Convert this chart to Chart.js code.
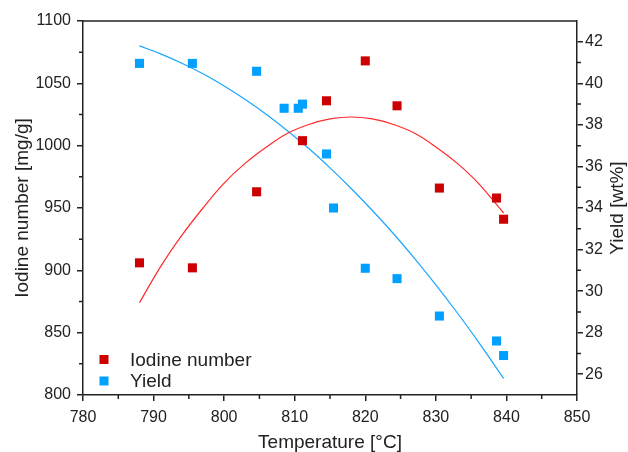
<!DOCTYPE html>
<html>
<head>
<meta charset="utf-8">
<script src="https://cdn.jsdelivr.net/npm/chart.js@4"></script>
<style>
    html, body { margin: 0; padding: 0; background: #fff; }
    #wrap { width: 628px; height: 452px; position: relative; }
</style>
</head>
<body>
<div id="wrap"><canvas id="chart"></canvas></div>
<script>
// Measured points
const iodineTemps = [788.0, 795.5, 804.6, 811.1, 814.5, 820.0, 824.5, 830.5, 838.6, 839.6];
const iodineValues = [906, 902, 963, 1004, 1036, 1068, 1032, 966, 958, 941];

const yieldTemps = [788.0, 795.5, 804.6, 808.5, 810.5, 811.1, 814.5, 815.5, 820.0, 824.5, 830.5, 838.6, 839.6];
const yieldValues = [40.96, 40.96, 40.58, 38.8, 38.8, 39.0, 36.6, 34.0, 31.1, 30.6, 28.8, 27.6, 26.9];

// Fit curves
const fitTemps = [788, 791, 794, 797, 800, 803, 806, 809, 812, 815, 818, 821, 824, 827, 830, 833, 836, 839.6];
const iodineFit = [874, 903, 928, 950, 970, 986, 999, 1010, 1017, 1021.5, 1023, 1021.5, 1017, 1010, 999, 986, 970, 946];
const yieldFit = [41.8, 41.42, 40.97, 40.46, 39.87, 39.22, 38.5, 37.71, 36.86, 35.93, 34.94, 33.88, 32.76, 31.56, 30.3, 28.97, 27.57, 25.8];

// Ticks
const tempTicks = [780, 790, 800, 810, 820, 830, 840, 850];
const iodineTicks = [800, 850, 900, 950, 1000, 1050, 1100];
const yieldTicks = [26, 28, 30, 32, 34, 36, 38, 40, 42];

// Axis labels
const xTitle = 'Temperature [°C]';
const yTitle = 'Iodine number [mg/g]';
const y1Title = 'Yield [wt%]';

const RED = '#cc0000';
const BLUE = '#00a0ff';
const RED_LINE = '#ff2a2a';
const BLUE_LINE = '#1aa6ff';
const AXIS = '#222';
const FONT = "'Liberation Sans', Arial, sans-serif";

function pts(xs, ys) {
    return xs.map((x, i) => ({ x: x, y: ys[i] }));
}

function setTicks(values) {
    return s => { s.ticks = values.map(v => ({ value: v })); };
}

// minor ticks, top frame line, right title, legend
const extras = {
    id: 'extras',
    afterDraw(chart) {
        const ctx = chart.ctx;
        const { left, right, top, bottom } = chart.chartArea;
        const sx = chart.scales.x, sy = chart.scales.y, sy1 = chart.scales.y1;
        ctx.save();
        ctx.strokeStyle = AXIS;
        ctx.lineWidth = 1.5;
        ctx.beginPath();
        ctx.moveTo(left, top);
        ctx.lineTo(right, top);
        for (let i = 0; i < tempTicks.length - 1; i++) {
            const p = sx.getPixelForValue((tempTicks[i] + tempTicks[i + 1]) / 2);
            ctx.moveTo(p, bottom);
            ctx.lineTo(p, bottom + 4);
        }
        for (let i = 0; i < iodineTicks.length - 1; i++) {
            const p = sy.getPixelForValue((iodineTicks[i] + iodineTicks[i + 1]) / 2);
            ctx.moveTo(left, p);
            ctx.lineTo(left - 4, p);
        }
        for (let i = 0; i < yieldTicks.length - 1; i++) {
            const p = sy1.getPixelForValue((yieldTicks[i] + yieldTicks[i + 1]) / 2);
            ctx.moveTo(right, p);
            ctx.lineTo(right + 4, p);
        }
        ctx.stroke();

        // right axis title, reading bottom to top
        ctx.fillStyle = AXIS;
        ctx.font = '19px ' + FONT;
        ctx.textAlign = 'center';
        ctx.textBaseline = 'middle';
        ctx.translate(618, (top + bottom) / 2);
        ctx.rotate(-Math.PI / 2);
        ctx.fillText(y1Title, 0, 0);
        ctx.restore();

        // legend
        ctx.save();
        ctx.font = '19px ' + FONT;
        ctx.textAlign = 'left';
        ctx.textBaseline = 'middle';
        const items = [chart.data.datasets[0], chart.data.datasets[1]];
        items.forEach((ds, i) => {
            const cy = 359.5 + i * 21.5;
            ctx.fillStyle = ds.backgroundColor;
            ctx.fillRect(99.5, cy - 4.5, 9, 9);
            ctx.fillStyle = AXIS;
            ctx.fillText(ds.label, 130, cy + 1);
        });
        ctx.restore();
    }
};

const tickFont = { family: FONT, size: 16 };
const titleFont = { family: FONT, size: 19, lineHeight: 1 };
const plain = v => String(v);

new Chart(document.getElementById('chart'), {
    type: 'scatter',
    data: {
        datasets: [
            {
                label: 'Iodine number',
                data: pts(iodineTemps, iodineValues),
                yAxisID: 'y',
                backgroundColor: RED,
                borderColor: RED,
                pointStyle: 'rect',
                pointRadius: 6.4,
                pointBorderWidth: 0
            },
            {
                label: 'Yield',
                data: pts(yieldTemps, yieldValues),
                yAxisID: 'y1',
                backgroundColor: BLUE,
                borderColor: BLUE,
                pointStyle: 'rect',
                pointRadius: 6.4,
                pointBorderWidth: 0
            },
            {
                label: 'Iodine fit',
                type: 'line',
                data: pts(fitTemps, iodineFit),
                yAxisID: 'y',
                borderColor: RED_LINE,
                borderWidth: 1.2,
                pointRadius: 0,
                tension: 0.4,
                fill: false
            },
            {
                label: 'Yield fit',
                type: 'line',
                data: pts(fitTemps, yieldFit),
                yAxisID: 'y1',
                borderColor: BLUE_LINE,
                borderWidth: 1.2,
                pointRadius: 0,
                tension: 0.4,
                fill: false
            }
        ]
    },
    options: {
        responsive: true,
        maintainAspectRatio: false,
        animation: false,
        layout: { padding: { top: 21, left: 0, right: 0, bottom: 0 } },
        plugins: {
            legend: { display: false },
            tooltip: { enabled: false }
        },
        scales: {
            x: {
                type: 'linear',
                min: 780,
                max: 850,
                afterFit: s => { s.height = 57; },
                afterBuildTicks: setTicks(tempTicks),
                ticks: { color: AXIS, font: tickFont, padding: 7, callback: plain },
                grid: { drawOnChartArea: false, tickLength: 6, color: AXIS, lineWidth: 1.5 },
                border: { color: AXIS, width: 1.5 },
                title: { display: true, text: xTitle, color: AXIS, font: titleFont, padding: { top: 0, bottom: 0 } }
            },
            y: {
                position: 'left',
                min: 800,
                max: 1100,
                afterFit: s => { s.width = 83; },
                afterBuildTicks: setTicks(iodineTicks),
                ticks: { color: AXIS, font: tickFont, padding: 6, callback: plain },
                grid: { drawOnChartArea: false, tickLength: 6, color: AXIS, lineWidth: 1.5 },
                border: { color: AXIS, width: 1.5 },
                title: { display: true, text: yTitle, color: AXIS, font: titleFont, padding: { top: 13, bottom: 0 } }
            },
            y1: {
                position: 'right',
                min: 25,
                max: 43,
                afterFit: s => { s.width = 51; },
                afterBuildTicks: setTicks(yieldTicks),
                ticks: { color: AXIS, font: tickFont, padding: 2, callback: plain },
                grid: { drawOnChartArea: false, tickLength: 6, color: AXIS, lineWidth: 1.5 },
                border: { color: AXIS, width: 1.5 }
            }
        }
    },
    plugins: [extras]
});
</script>
</body>
</html>
